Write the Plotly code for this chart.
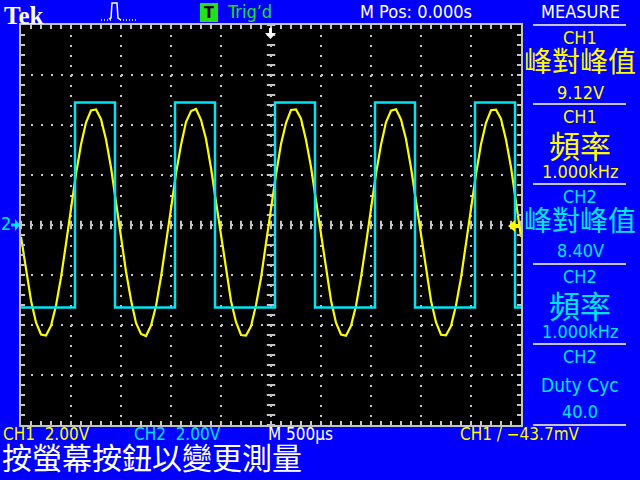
import numpy as np
import plotly.graph_objects as go

# Time base: M 500 us/div, 10 divisions -> -2.5 ms .. +2.5 ms
CH1_T0_MS = -2.5
CH1_DT_MS = 0.05
# CH1 (yellow, 2.00 V/div) samples every 0.05 ms, volts
ch1_volts = [
    -0.47, -1.84, -3.02, -3.90, -4.38, -4.42, -4.03, -3.22, -2.10, -0.75,
    0.67, 2.04, 3.22, 4.10, 4.58, 4.62, 4.23, 3.42, 2.30, 0.95,
    -0.49, -1.86, -3.00, -3.92, -4.36, -4.44, -4.02, -3.24, -2.08, -0.77,
    0.65, 2.06, 3.20, 4.12, 4.56, 4.64, 4.21, 3.44, 2.28, 0.93,
    -0.45, -1.82, -3.04, -3.88, -4.40, -4.42, -4.05, -3.20, -2.12, -0.73,
    0.69, 2.02, 3.24, 4.08, 4.60, 4.62, 4.25, 3.40, 2.32, 0.97,
    -0.48, -1.85, -3.02, -3.91, -4.38, -4.43, -4.03, -3.23, -2.09, -0.76,
    0.66, 2.05, 3.21, 4.11, 4.57, 4.63, 4.22, 3.43, 2.29, 0.94,
    -0.46, -1.83, -3.03, -3.89, -4.39, -4.41, -4.04, -3.21, -2.11, -0.74,
    0.68, 2.03, 3.23, 4.09, 4.59, 4.61, 4.24, 3.41, 2.31, 0.96,
    -0.47,
]
# CH2 (cyan, 2.00 V/div) square wave: edge times (ms) and levels (V)
ch2_t_ms = [-2.50, -1.96, -1.56, -0.96, -0.56, 0.04, 0.44, 1.04, 1.44, 2.04, 2.44, 2.50]
ch2_volts = [-3.30, 4.90, -3.30, 4.90, -3.30, 4.90, -3.30, 4.90, -3.30, 4.90, -3.30, -3.30]

trigger_level_v = -0.0437

measure_labels = ["CH1", "CH1", "CH2", "CH2", "CH2"]
measure_names = ["峰對峰值", "頻率", "峰對峰值", "頻率", "Duty Cyc"]
measure_values = ["9.12V", "1.000kHz", "8.40V", "1.000kHz", "40.0"]

# ---------------- styling ----------------
BLUE = "#0000fc"
YELLOW = "#fcfc00"
CYAN = "#00e4f4"
GRAY = "#c4c4c4"
GREEN = "#20e020"
WHITE = "#ffffff"
FONT = "DejaVu Sans Condensed, Liberation Sans Narrow, Roboto Condensed, DejaVu Sans, sans-serif"
CJK = "Noto Sans CJK TC, Noto Sans CJK SC, sans-serif"

L, R, T, B = 21, 521, 25, 425  # plot area in pixels


def px(x):
    return (x - L) / (R - L)


def py(y):
    return (B - y) / (B - T)


fig = go.Figure()

# graticule centre-line tick marks
xt = np.round(np.arange(-2.5, 2.5001, 0.1), 3)
yt = np.round(np.arange(-8, 8.001, 0.4), 3)
fig.add_trace(go.Scatter(x=xt, y=np.zeros_like(xt), mode="markers", hoverinfo="skip",
                         marker=dict(symbol="line-ns", size=6, color=GRAY,
                                     line=dict(width=2, color=GRAY))))
fig.add_trace(go.Scatter(x=np.zeros_like(yt), y=yt, mode="markers", hoverinfo="skip",
                         marker=dict(symbol="line-ew", size=6, color=GRAY,
                                     line=dict(width=2, color=GRAY))))

# CH1 sine
fig.add_trace(go.Scatter(x0=CH1_T0_MS, dx=CH1_DT_MS, y=ch1_volts, mode="lines",
                         line=dict(color=YELLOW, width=2.2), name="CH1"))
# CH2 square
fig.add_trace(go.Scatter(x=ch2_t_ms, y=ch2_volts, mode="lines", line_shape="hv",
                         line=dict(color=CYAN, width=2.5), name="CH2"))

axis_common = dict(
    showticklabels=False, showline=True, linecolor=GRAY, linewidth=2,
    mirror="ticks", ticks="inside", ticklen=4, tickwidth=2, tickcolor=GRAY,
    showgrid=True, gridcolor=GRAY, gridwidth=2, griddash="2px,8px",
    zeroline=False, fixedrange=True,
)
fig.update_xaxes(range=[-2.5, 2.5], dtick=0.5, tick0=0,
                 minor=dict(dtick=0.1, tick0=0, ticks="inside", ticklen=4,
                            tickwidth=2, tickcolor=GRAY, showgrid=False),
                 **axis_common)
fig.update_yaxes(range=[-8, 8], dtick=2, tick0=0,
                 minor=dict(dtick=0.4, tick0=0, ticks="inside", ticklen=4,
                            tickwidth=2, tickcolor=GRAY, showgrid=False),
                 **axis_common)

ann = []


def text(x, y, s, color, size, family=FONT, xanchor="center", yanchor="middle", bold=False):
    if bold:
        s = "<b>" + s + "</b>"
    ann.append(dict(x=px(x), y=py(y), xref="paper", yref="paper", text=s,
                    showarrow=False, xanchor=xanchor, yanchor=yanchor,
                    font=dict(color=color, size=size, family=family)))


# top bar
text(2, 0, "Tek", WHITE, 25, family="Liberation Serif, DejaVu Serif, serif",
     xanchor="left", yanchor="top", bold=True)
text(209, 12.5, "T", "#000000", 16, bold=True)
text(225, 11, "Trig’d", GREEN, 18, xanchor="left")
text(358, 11, "M Pos: 0.000s", WHITE, 18, xanchor="left")
text(580, 11, "MEASURE", WHITE, 18)

# measure panel
box_tops = [25, 104, 184, 264, 344]
for i, top in enumerate(box_tops):
    col = YELLOW if measure_labels[i] == "CH1" else CYAN
    text(580, top + 12, measure_labels[i], col, 18)
    name = measure_names[i]
    if name == "Duty Cyc":
        text(580, top + 41, name, col, 19)
    elif len(name) == 2:
        text(580, top + 40, name, col, 31, family=CJK)
    else:
        text(580, top + 35, name, col, 28, family=CJK)
    text(580, top + 67, measure_values[i], col, 18)

# bottom status line
text(1, 434, "CH1  2.00V", YELLOW, 17, xanchor="left")
text(132, 434, "CH2  2.00V", CYAN, 17, xanchor="left")
text(266, 434, "M 500µs", WHITE, 17, xanchor="left")
text(458, 434, "CH1 / −43.7mV", YELLOW, 17, xanchor="left")
text(0, 480, "按螢幕按鈕以變更測量", WHITE, 30, family=CJK, xanchor="left", yanchor="bottom")

# left ground marker
text(6, 223, "2", CYAN, 18)

shapes = []
# separators in measure panel
for y in [25, 104, 184, 264, 344, 425]:
    shapes.append(dict(type="line", xref="paper", yref="paper", x0=px(533), x1=px(626),
                       y0=py(y), y1=py(y), line=dict(color=GRAY, width=2)))
# green trig box
shapes.append(dict(type="rect", xref="paper", yref="paper", x0=px(200), x1=px(218),
                   y0=py(3), y1=py(22), fillcolor=GREEN, line=dict(width=0), layer="below"))
# pulse icon
shapes.append(dict(type="path", xref="paper", yref="paper",
                   path=f"M{px(101)},{py(20)} L{px(111)},{py(20)} M{px(120)},{py(20)} L{px(136)},{py(20)}",
                   line=dict(color=WHITE, width=1.5, dash="1px,2px")))
shapes.append(dict(type="path", xref="paper", yref="paper",
                   path=(f"M{px(109)},{py(19)} L{px(111)},{py(18)} L{px(112)},{py(3)} "
                         f"L{px(117)},{py(3)} L{px(118)},{py(18)} L{px(121)},{py(20)}"),
                   line=dict(color=WHITE, width=1.5)))
# trigger position arrow (top)
shapes.append(dict(type="path", xref="paper", yref="paper",
                   path=(f"M{px(269)},{py(28)} L{px(272)},{py(28)} L{px(272)},{py(33)} "
                         f"L{px(276)},{py(33)} L{px(270.5)},{py(39)} L{px(265)},{py(33)} "
                         f"L{px(269)},{py(33)} Z"),
                   fillcolor=WHITE, line=dict(width=0)))
# CH2 ground arrow (left)
shapes.append(dict(type="path", xref="paper", yref="paper",
                   path=(f"M{px(11)},{py(223.5)} L{px(15)},{py(223.5)} L{px(15)},{py(219)} "
                         f"L{px(20)},{py(225)} L{px(15)},{py(231)} L{px(15)},{py(226.5)} "
                         f"L{px(11)},{py(226.5)} Z"),
                   fillcolor=CYAN, line=dict(width=0)))
# trigger level arrow (right), yellow
ty = B - (trigger_level_v + 8) / 16 * (B - T)
shapes.append(dict(type="path", xref="paper", yref="paper",
                   path=(f"M{px(508)},{py(ty)} L{px(515)},{py(ty - 6)} L{px(515)},{py(ty - 2)} "
                         f"L{px(520)},{py(ty - 2)} L{px(520)},{py(ty + 2)} L{px(515)},{py(ty + 2)} "
                         f"L{px(515)},{py(ty + 6)} Z"),
                   fillcolor=YELLOW, line=dict(width=0)))

fig.update_layout(
    width=640, height=480,
    margin=dict(l=L, r=640 - R, t=T, b=480 - B, pad=0),
    paper_bgcolor=BLUE, plot_bgcolor="#000000",
    showlegend=False, annotations=ann, shapes=shapes,
    hovermode=False,
)

fig.write_html("out.html", config={"displayModeBar": False})
